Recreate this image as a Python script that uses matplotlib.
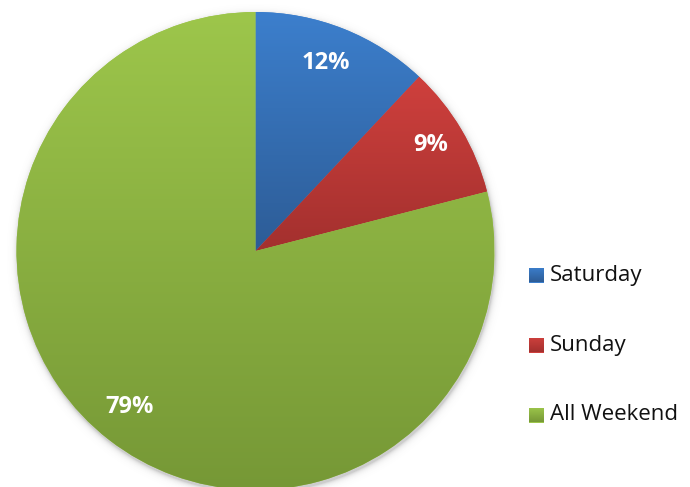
import numpy as np
import matplotlib
matplotlib.use("Agg")
import matplotlib.pyplot as plt
from matplotlib.patches import Rectangle
from matplotlib.colors import to_rgb

# Share of respondents by day attended
categories = ["Saturday", "Sunday", "All Weekend"]
shares = [12, 9, 79]
labels = ["12%", "9%", "79%"]

# top / bottom colours of each slice's vertical gradient
top_colors = ["#3c7fcd", "#cf403d", "#9dc64b"]
bottom_colors = ["#2d5c96", "#a3302e", "#769836"]

W, H = 690, 487
fig = plt.figure(figsize=(W / 100, H / 100), dpi=100)
ax = fig.add_axes([0, 0, 1, 1])
ax.set_xlim(0, W)
ax.set_ylim(0, H)
ax.set_aspect("equal")
ax.axis("off")

cx, cy, r = 255.5, H - 251, 239


def gradient_fill(patch, c_top, c_bot, zorder):
    bb = patch.get_path().get_extents(patch.get_transform() - ax.transData)
    x0, y0, x1, y1 = bb.x0, bb.y0, bb.x1, bb.y1
    t = np.linspace(0, 1, 256)[:, None]
    a, b = np.array(to_rgb(c_bot)), np.array(to_rgb(c_top))
    img = (a[None, :] * (1 - t) + b[None, :] * t)[:, None, :]
    im = ax.imshow(img, extent=(x0, x1, y0, y1), origin="lower",
                   aspect="auto", zorder=zorder, interpolation="bilinear")
    im.set_clip_path(patch)


# soft shadow under the pie
yy, xx = np.mgrid[0:H, 0:W]
d = np.hypot(xx - (cx + 0.5), (H - yy) - (cy - 2)) - r
alpha = np.clip(np.exp(-np.clip(d, 0, None) / 2.5), 0, 1) * 0.3
alpha[d < 0] = 0.3
shadow = np.zeros((H, W, 4))
shadow[..., :3] = 0.35
shadow[..., 3] = alpha
ax.imshow(shadow, extent=(0, W, 0, H), origin="upper", zorder=0,
          interpolation="bilinear")

wedges, _ = ax.pie(shares, center=(cx, cy), radius=r, startangle=90,
                   counterclock=False, colors=top_colors,
                   wedgeprops=dict(linewidth=0))
for w, ct, cb in zip(wedges, top_colors, bottom_colors):
    w.set_zorder(1)
    gradient_fill(w, ct, cb, 2)

ax.set_xlim(0, W)
ax.set_ylim(0, H)

label_pos = [(326, 63), (431, 145), (130, 407)]
for (px, py), txt in zip(label_pos, labels):
    ax.text(px, H - py, txt, color="white", fontsize=17, fontweight="bold",
            family="Open Sans", ha="center", va="center", zorder=5)

# legend
legend_y = [275, 345, 415]
for name, py, ct, cb in zip(categories, legend_y, top_colors, bottom_colors):
    sq = Rectangle((529, H - py - 7.5), 15, 15, linewidth=0, facecolor=ct,
                   zorder=3)
    ax.add_patch(sq)
    gradient_fill(sq, ct, cb, 4)
    ax.text(550, H - py, name, fontsize=16, family="Open Sans",
            color="#111111", ha="left", va="center", zorder=5)

fig.savefig("out.png", dpi=100)
